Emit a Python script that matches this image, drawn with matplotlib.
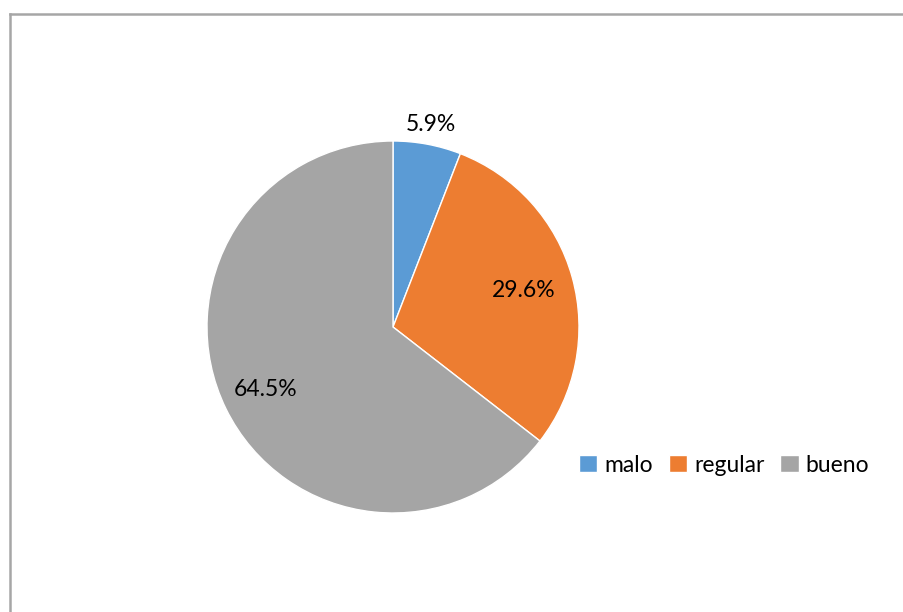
import numpy as np
import matplotlib.pyplot as plt
from matplotlib.lines import Line2D

labels = ["malo", "regular", "bueno"]
values = [5.9, 29.6, 64.5]
colors = ["#5b9bd5", "#ed7d31", "#a5a5a5"]
# radial position of each percentage label (fraction of the radius)
label_r = [1.11, 0.73, 0.76]

plt.rcParams['font.family'] = ['Lato', 'DejaVu Sans']

fig = plt.figure(figsize=(9.04, 6.12), dpi=100)

# chart frame (only left and top edges are visible)
fig.add_artist(Line2D([9.5 / 904, 1.0], [1 - 13.5 / 612, 1 - 13.5 / 612],
                      color="#a6a6a6", lw=1.8, transform=fig.transFigure))
fig.add_artist(Line2D([9.5 / 904, 9.5 / 904], [0.0, 1 - 13.5 / 612],
                      color="#a6a6a6", lw=1.8, transform=fig.transFigure))

ax = fig.add_axes([207 / 904, 99 / 612, 372 / 904, 372 / 612])
wedges, _ = ax.pie(values, colors=colors, startangle=90, counterclock=False,
                   radius=1, wedgeprops=dict(edgecolor="white", linewidth=1.0))
ax.set_xlim(-1, 1)
ax.set_ylim(-1, 1)
ax.set_aspect("equal")
ax.axis("off")

total = sum(values)
start = 90.0
for v, r in zip(values, label_r):
    mid = np.deg2rad(start - v / total * 360 / 2)
    ax.text(r * np.cos(mid), r * np.sin(mid), f"{v}%", ha="center", va="center",
            fontsize=16.5, color="black", clip_on=False)
    start -= v / total * 360

fig.legend(wedges, labels, loc="center", bbox_to_anchor=(724 / 904, 1 - 465 / 612),
           ncol=3, frameon=False, fontsize=16.5, handlelength=0.8, handleheight=0.8,
           handletextpad=0.3, columnspacing=0.7)

fig.savefig("out.png", dpi=100)
